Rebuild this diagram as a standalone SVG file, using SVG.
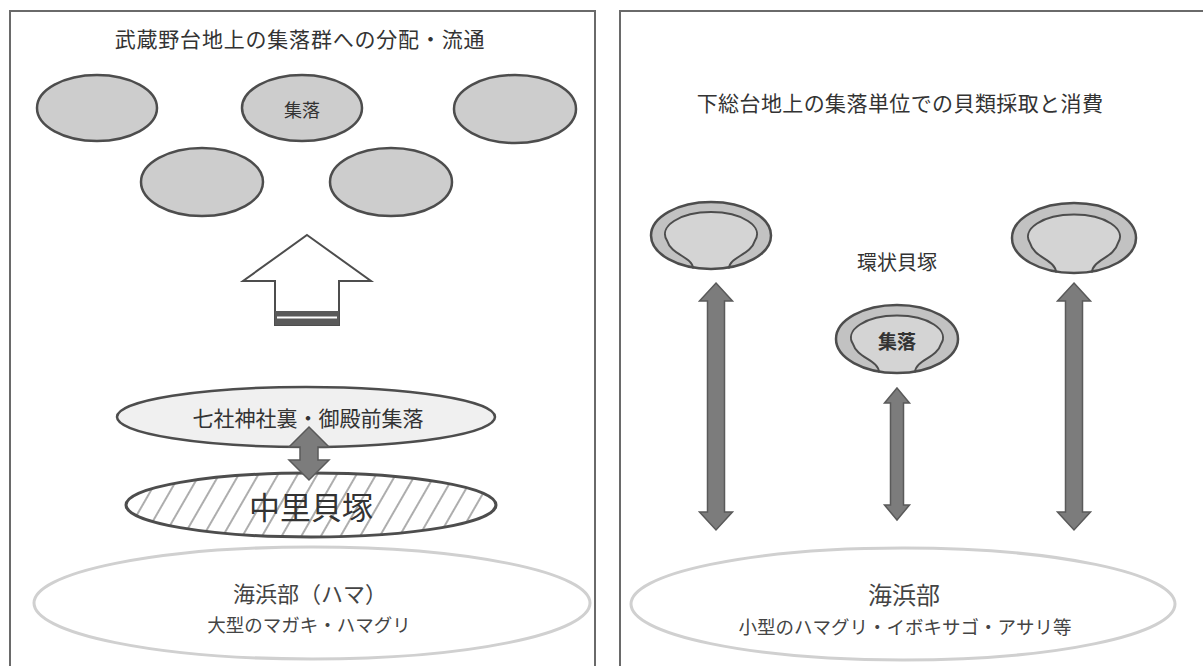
<svg xmlns="http://www.w3.org/2000/svg" width="1203" height="666" viewBox="0 0 1203 666">
<defs>
<style>
text{font-family:"Noto Sans CJK JP","Noto Sans",sans-serif;text-anchor:middle;dominant-baseline:central;fill:#333}
.panel{fill:#fff;stroke:#6a6a6a;stroke-width:2}
.title{font-size:21px}
.vil{fill:#cdcdcd;stroke:#4d4d4d;stroke-width:2.5}
.ringo{fill:#c2c2c2}
.ringi{fill:#d4d4d4;stroke:#4d4d4d;stroke-width:2}
.ringst{fill:none;stroke:#4d4d4d;stroke-width:2.5}
.sea{fill:#fff;stroke:#d0d0d0;stroke-width:3}
.seatxt{fill:#444}
.darr{fill:#7c7c7c;stroke:#5a5a5a;stroke-width:1.5}
</style>
<pattern id="hatch" patternUnits="userSpaceOnUse" width="17" height="17" patternTransform="rotate(30)">
<rect width="17" height="17" fill="#fff"/>
<line x1="2" y1="0" x2="2" y2="17" stroke="#6a6a6a" stroke-width="1.1"/>
</pattern>
</defs>
<rect width="1203" height="666" fill="#fff"/>

<g id="panel-left">
<rect class="panel" x="10" y="11" width="585" height="670"/>
<text class="title" x="300" y="38" letter-spacing="0.8">武蔵野台地上の集落群への分配・流通</text>
</g>
<g id="panel-right">
<rect class="panel" x="620" y="11" width="600" height="670"/>
<text class="title" x="900" y="102" letter-spacing="0.4">下総台地上の集落単位での貝類採取と消費</text>
</g>

<g id="village-1"><ellipse class="vil" cx="97" cy="108" rx="60" ry="33"/></g>
<g id="village-2"><ellipse class="vil" cx="302" cy="108" rx="60" ry="33"/><text x="302" y="109" font-size="18">集落</text></g>
<g id="village-3"><ellipse class="vil" cx="515" cy="109" rx="61" ry="34"/></g>
<g id="village-4"><ellipse class="vil" cx="202" cy="182" rx="61" ry="34"/></g>
<g id="village-5"><ellipse class="vil" cx="391" cy="182" rx="61" ry="34"/></g>

<g id="shichisha">
<ellipse cx="306" cy="417" rx="189" ry="30" fill="#f0f0f0" stroke="#4d4d4d" stroke-width="2.5"/>
<text x="308" y="417" font-size="21">七社神社裏・御殿前集落</text>
</g>

<g id="nakazato">
<ellipse cx="311" cy="505" rx="185" ry="32" fill="url(#hatch)" stroke="#4d4d4d" stroke-width="3"/>
<text x="311" y="505" font-size="31" fill="#222">中里貝塚</text>
</g>

<g id="sea-left">
<ellipse class="sea" cx="312" cy="603" rx="278" ry="56"/>
<text class="seatxt" x="310" y="592" font-size="22">海浜部（ハマ）</text>
<text class="seatxt" x="309" y="624" font-size="18.5">大型のマガキ・ハマグリ</text>
</g>

<g id="ring-left">
<ellipse class="ringo" cx="711" cy="235.5" rx="60" ry="33.5"/>
<path class="ringi" d="M693,268.5 C693,257 671,255 667,240.5 A46 22 0 1 1 755,240.5 C751,255 729,257 729,268.5"/>
<ellipse class="ringst" cx="711" cy="235.5" rx="60" ry="33.5"/>
</g>
<g id="ring-right">
<ellipse class="ringo" cx="1074" cy="238" rx="62" ry="35"/>
<path class="ringi" d="M1056,272.5 C1056,260 1034,258 1030,243 A46 22 0 1 1 1118,243 C1114,258 1092,260 1092,272.5"/>
<ellipse class="ringst" cx="1074" cy="238" rx="62" ry="35"/>
</g>
<g id="ring-middle">
<ellipse class="ringo" cx="897" cy="339" rx="61" ry="34"/>
<path class="ringi" d="M879,372.5 C879,360 857,358 853,344 A46 22 0 1 1 941,344 C937,358 915,360 915,372.5"/>
<ellipse class="ringst" cx="897" cy="339" rx="61" ry="34"/>
<text x="897" y="340" font-size="19" font-weight="bold" fill="#2a2a2a">集落</text>
</g>
<g id="label-kanjo">
<text x="897" y="261" font-size="20">環状貝塚</text>
</g>

<g id="sea-right">
<ellipse class="sea" cx="903" cy="604" rx="272" ry="56"/>
<text class="seatxt" x="904" y="593" font-size="24">海浜部</text>
<text class="seatxt" x="905" y="626" font-size="18.5">小型のハマグリ・イボキサゴ・アサリ等</text>
</g>

<g id="connectors">
<g id="arrow-up">
<polygon points="307,235 371,281 339,281 339,325 275,325 275,281 243,281" fill="#fff" stroke="#4d4d4d" stroke-width="2"/>
<rect x="275" y="311" width="64" height="14" fill="#5a5a5a"/>
<rect x="277" y="316.5" width="60" height="2" fill="#fff"/>
</g>
<polygon class="darr" points="309,427 329,447 318,447 318,460 329,460 309,480 289,460 300,460 300,447 289,447"/>
<polygon class="darr" points="716,283 732.5,301 724.5,301 724.5,512 732.5,512 716,530 699.5,512 707.5,512 707.5,301 699.5,301"/>
<polygon class="darr" points="897,388 909.5,403 903.5,403 903.5,505 909.5,505 897,520 884.5,505 890.5,505 890.5,403 884.5,403"/>
<polygon class="darr" points="1074,283 1090.5,301 1082.5,301 1082.5,512 1090.5,512 1074,530 1057.5,512 1065.5,512 1065.5,301 1057.5,301"/>
</g>
</svg>
